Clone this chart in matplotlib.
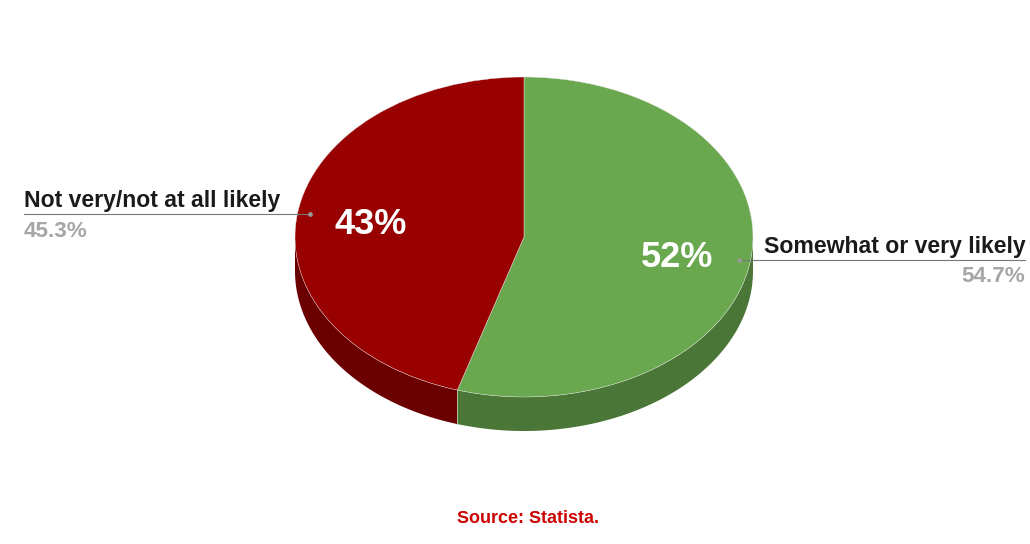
import numpy as np
import matplotlib
matplotlib.use("Agg")
import matplotlib.pyplot as plt

categories = ["Somewhat or very likely", "Not very/not at all likely"]
values = [54.7, 45.3]
value_labels = ["54.7%", "45.3%"]
inner_labels = ["52%", "43%"]
source_text = "Source: Statista."

top_colors = ["#6aa84f", "#990000"]
side_colors = ["#4a7637", "#6b0000"]

W, H = 1030, 544
CX, CY, RX, RY, DEPTH = 524, 237, 229, 160, 34

plt.rcParams["font.family"] = ["Liberation Sans", "DejaVu Sans"]
plt.rcParams["text.hinting"] = "no_autohint"
plt.rcParams["text.kerning_factor"] = 6
fig = plt.figure(figsize=(W / 100, H / 100), dpi=100, facecolor="white")
ax = fig.add_axes([0, 0, 1, 1])


def px(x, y):
    """Pixel position in the reference -> axes data position."""
    return (x - CX) / RX, (CY - y) / RY


# Side wall of the pie, from the same values as the top
fractions = np.array(values) / sum(values)
edges = 90 - 360 * np.concatenate([[0], np.cumsum(fractions)])
d = DEPTH / RY
for start, end, color in zip(edges[:-1], edges[1:], side_colors):
    a0 = min(start, 0)
    a1 = max(end, -180)
    if a0 <= a1:
        continue
    t = np.radians(np.linspace(a0, a1, 200))
    xs = np.concatenate([np.cos(t), np.cos(t)[::-1]])
    ys = np.concatenate([np.sin(t), np.sin(t)[::-1] - d])
    ax.fill(xs, ys, color=color, lw=0, zorder=1)

# Seam on the wall at the slice boundary
seam = np.radians(edges[1])
ax.plot([np.cos(seam)] * 2, [np.sin(seam), np.sin(seam) - d],
        color="#b9c9b0", lw=0.6, zorder=2)

# Top of the pie
ax.pie(values, colors=top_colors, startangle=90, counterclock=False,
       radius=1, center=(0, 0),
       wedgeprops=dict(edgecolor="#e8e8e8", linewidth=0.3, zorder=3))
ax.set_aspect("auto")
ax.set_xlim((0 - CX) / RX, (W - CX) / RX)
ax.set_ylim((CY - H) / RY, (CY - 0) / RY)
ax.axis("off")

# Leader lines and dots
for (x0, x1, y, dot_x) in [(739, 1025, 260, 739), (24, 310, 214, 310)]:
    p0, p1 = px(x0, y), px(x1, y)
    ax.plot([p0[0], p1[0]], [p0[1], p1[1]], color="#777777", lw=0.8, zorder=4)
    q = px(dot_x, y)
    ax.plot(*q, marker="o", ms=3.4, color="#999999", mew=0, zorder=5)

# Outside labels
t = px(1026, 253)
ax.text(*t, categories[0], ha="right", va="baseline", fontsize=16.6,
        fontweight="bold", color="#1a1a1a", zorder=6)
t = px(1025, 282)
ax.text(*t, value_labels[0], ha="right", va="baseline", fontsize=16.2,
        fontweight="bold", color="#a6a6a6", zorder=6)
t = px(24, 207)
ax.text(*t, categories[1], ha="left", va="baseline", fontsize=16.6,
        fontweight="bold", color="#1a1a1a", zorder=6)
t = px(24, 237)
ax.text(*t, value_labels[1], ha="left", va="baseline", fontsize=16.2,
        fontweight="bold", color="#a6a6a6", zorder=6)

# Inside labels
t = px(677, 267)
ax.text(*t, inner_labels[0], ha="center", va="baseline", fontsize=26,
        fontweight="bold", color="white", zorder=6)
t = px(371, 234)
ax.text(*t, inner_labels[1], ha="center", va="baseline", fontsize=26,
        fontweight="bold", color="white", zorder=6)

# Source
t = px(528, 523)
ax.text(*t, source_text, ha="center", va="baseline", fontsize=13,
        fontweight="bold", color="#cc0000", zorder=6)

fig.savefig("out.png", dpi=100, facecolor="white")
